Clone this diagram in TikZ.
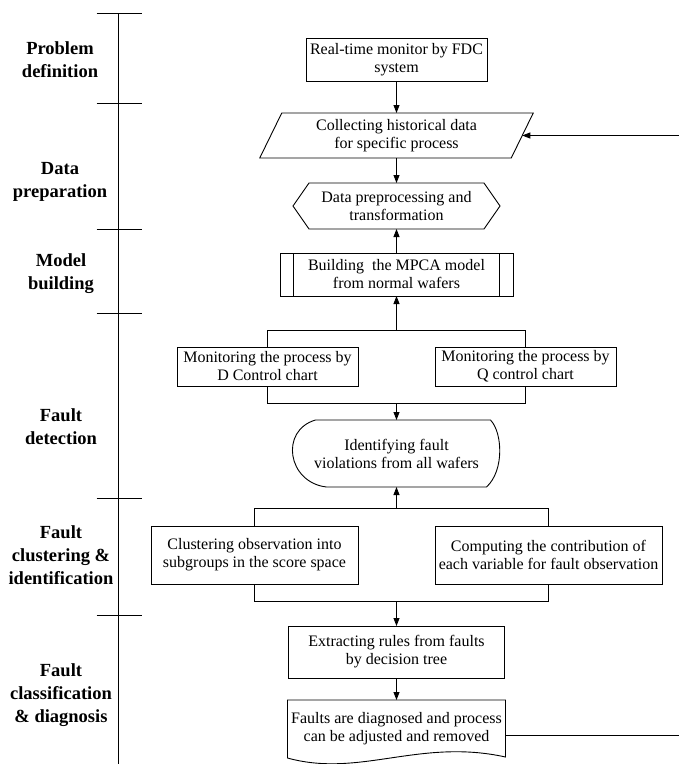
\documentclass[tikz,border=0pt]{standalone}
\usepackage{fontspec}
\setmainfont{Liberation Serif}
\usetikzlibrary{arrows.meta,positioning}

\begin{document}
\begin{tikzpicture}[x=1pt, y=-1pt, line width=0.9pt,
  every node/.style={font=\fontsize{16}{18}\selectfont, align=center, inner sep=0pt, outer sep=0pt},
  box/.style={draw, minimum height=#1},
  frame/.style={minimum height=#1},
  lbl/.style={font=\bfseries\fontsize{18.5}{23}\selectfont},
  >={Triangle[length=8pt,width=6pt]}]
\useasboundingbox (0,0) rectangle (679,764);
% phase axis
\draw (118,13) -- (118,764);
\foreach \y in {13,103,229,313,498,615} \draw (96.5,\y) -- (141.5,\y);
\node[lbl] (pdef) at (60,60) {Problem\\definition};
\node[lbl] (dprep) at (60,181.5) {Data\\preparation};
\node[lbl] (mbuild) at (61,274) {Model\\building};
\node[lbl] (fdet) at (61,426.5) {Fault\\detection};
\node[lbl] (fclus) at (61,555) {Fault\\clustering \&\\identification};
\node[lbl] (fclass) at (61,695) {Fault\\classification\\\& diagnosis};
% flow
\node[box=43, minimum width=181] (rt) at (396.5,59.5) {Real-time monitor by FDC\\system};
\node[frame=45, minimum width=251.5] (coll) [below=32pt of rt] {Collecting historical data\\for specific process};
\node[frame=46, minimum width=207] (prep) [below=25pt of coll] {Data preprocessing and\\transformation};
\node[box=43, minimum width=233] (mpca) [below=24pt of prep] {Building\ \ the MPCA model\\from normal wafers};
\node[box=39, minimum width=181] (dchart) [below=51pt of mpca, xshift=-129pt] {Monitoring the process by\\D Control chart};
\node[box=39, minimum width=181] (qchart) [right=77pt of dchart] {Monitoring the process by\\Q control chart};
\node[frame=67, minimum width=206] (ident) [below=34pt of dchart, xshift=129pt] {Identifying fault\\violations from all wafers};
\node[box=58, minimum width=207] (clust) [below=39pt of ident, xshift=-142pt] {Clustering observation into\\subgroups in the score space};
\node[box=58, minimum width=227] (contrib) [right=77pt of clust] {Computing the contribution of\\each variable for fault observation};
\node[box=52, minimum width=216] (rules) [below=42pt of clust, xshift=142pt] {Extracting rules from faults\\by decision tree};
\node[frame=57, minimum width=218] (diag) [below=22pt of rules] {Faults are diagnosed and process\\can be adjusted and removed};
% outlines
\draw ([xshift=11pt]coll.north west) -- ([xshift=11pt]coll.north east) -- ([xshift=-11pt]coll.south east) -- ([xshift=-11pt]coll.south west) -- cycle;
\draw (prep.west) -- ([xshift=16pt]prep.north west) -- ([xshift=-16pt]prep.north east) -- (prep.east) -- ([xshift=-16pt]prep.south east) -- ([xshift=16pt]prep.south west) -- cycle;
\draw ([xshift=13.5pt]mpca.north west) -- ([xshift=13.5pt]mpca.south west);
\draw ([xshift=-13.5pt]mpca.north east) -- ([xshift=-13.5pt]mpca.south east);
\draw[shift={(ident.center)}] (-81,-33.5) -- (94,-33.5) .. controls (106,-21) and (108,17) .. (90,33.5) -- (-70,33.5) .. controls (-109,29) and (-117,-23) .. (-81,-33.5) -- cycle;
\draw[shift={(diag.center)}] (-109,29.5) -- (-109,-28.5) -- (109,-28.5) -- (109,28.5) .. controls (23,9.5) and (-37,49.5) .. (-109,29.5) -- cycle;
% connectors
\draw[->] (rt) -- (coll);
\draw[->] (coll) -- (prep);
\draw[->] (mpca) -- (prep);
\path (dchart.north) ++(0,-17) coordinate (dqtop);
\draw (dchart.north) -- (dqtop) -| (qchart.north);
\draw[->] (dqtop -| mpca.south) -- (mpca.south);
\path (dchart.south) ++(0,17) coordinate (dqbot);
\draw (dchart.south) -- (dqbot) -| (qchart.south);
\draw[->] (dqbot -| ident.north) -- (ident.north);
\path (clust.north) ++(0,-18) coordinate (cctop);
\draw (clust.north) -- (cctop) -| (contrib.north);
\draw[->] (cctop -| ident.south) -- (ident.south);
\path (clust.south) ++(0,17) coordinate (ccbot);
\draw (clust.south) -- (ccbot) -| (contrib.south);
\draw[->] (ccbot -| rules.north) -- (rules.north);
\draw[->] (rules) -- (diag);
\draw[->] ([yshift=-6.5pt]diag.east) -- ++(176,0) |- (coll.east);
\end{tikzpicture}
\end{document}
